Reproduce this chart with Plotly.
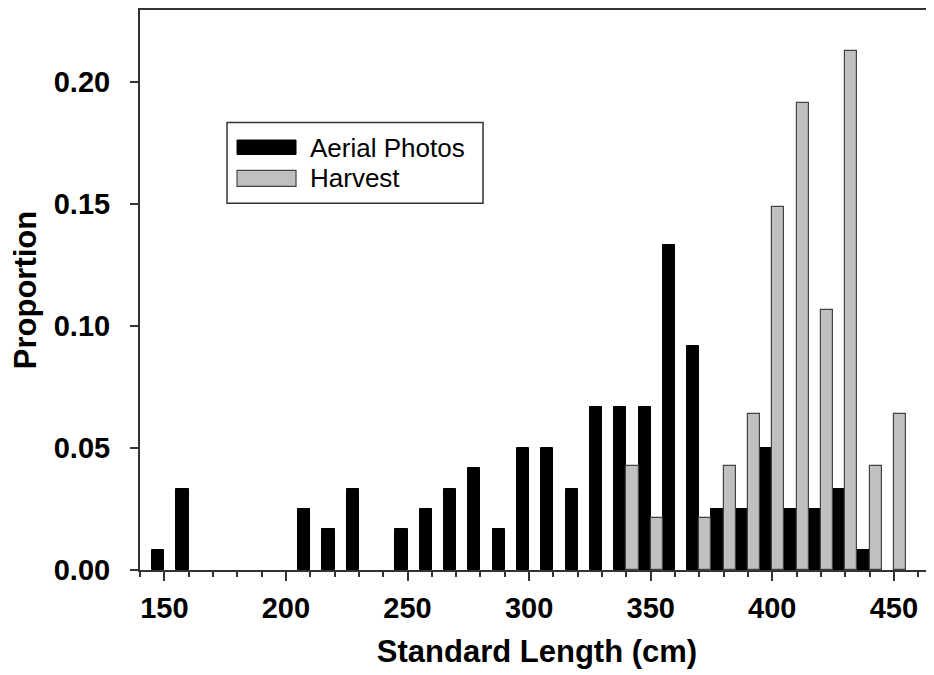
import plotly.graph_objects as go

# Data (bin centers in cm, proportions)
bins = [150, 160, 170, 180, 190, 200, 210, 220, 230, 240, 250, 260, 270, 280, 290,
        300, 310, 320, 330, 340, 350, 360, 370, 380, 390, 400, 410, 420, 430, 440, 450]
aerial = [0.0083, 0.0333, None, None, None, None, 0.025, 0.0167, 0.0333, None, 0.0167,
          0.025, 0.0333, 0.0417, 0.0167, 0.05, 0.05, 0.0333, 0.0667, 0.0667, 0.0667,
          0.1333, 0.0917, 0.025, 0.025, 0.05, 0.025, 0.025, 0.0333, 0.0083, None]
harvest = [None, None, None, None, None, None, None, None, None, None, None,
           None, None, None, None, None, None, None, None, 0.0426, 0.0213,
           None, 0.0213, 0.0426, 0.0638, 0.1489, 0.1915, 0.1064, 0.2128, 0.0426, 0.0638]
x_ticks = [150, 200, 250, 300, 350, 400, 450]
y_ticks = [0.0, 0.05, 0.10, 0.15, 0.20]
y_tick_labels = ["0.00", "0.05", "0.10", "0.15", "0.20"]

FONT = "Liberation Sans, Arial, sans-serif"

fig = go.Figure()
fig.add_trace(go.Bar(x=bins, y=aerial, name="Aerial Photos",
                     marker=dict(color="#000000", line=dict(color="#000000", width=1)),
                     showlegend=False))
fig.add_trace(go.Bar(x=bins, y=harvest, name="Harvest",
                     marker=dict(color="#c0c0c0", line=dict(color="#444444", width=1.2)),
                     showlegend=False))

# Custom legend (wide swatches as in the reference)
fig.add_shape(type="rect", xref="paper", yref="paper", x0=0.1096, x1=0.432, y0=0.6548, y1=0.799,
              line=dict(color="#333333", width=1.5), fillcolor="white", layer="above")
fig.add_shape(type="rect", xref="paper", yref="paper", x0=0.1222, x1=0.1965, y0=0.742, y1=0.7678,
              line=dict(color="#000000", width=1), fillcolor="#000000", layer="above")
fig.add_shape(type="rect", xref="paper", yref="paper", x0=0.1222, x1=0.1965, y0=0.685, y1=0.7135,
              line=dict(color="#444444", width=1.2), fillcolor="#c0c0c0", layer="above")
fig.add_annotation(text="Aerial Photos", xref="paper", yref="paper", x=0.2115, y=0.7536,
                   xanchor="left", yanchor="middle", showarrow=False,
                   font=dict(family=FONT, size=26, color="#000000"))
fig.add_annotation(text="Harvest", xref="paper", yref="paper", x=0.2115, y=0.6993,
                   xanchor="left", yanchor="middle", showarrow=False,
                   font=dict(family=FONT, size=26, color="#000000"))

fig.update_layout(
    width=926, height=667,
    margin=dict(l=132, r=0, t=0, b=105),
    paper_bgcolor="white", plot_bgcolor="white",
    barmode="group", bargap=0, bargroupgap=0,
    font=dict(family=FONT, color="#000000"),
)
fig.update_xaxes(
    range=[140, 466.5], tickvals=x_ticks, ticks="outside", ticklen=9, tickwidth=2,
    tickcolor="#333333", showline=True, linecolor="#333333", linewidth=2, mirror=True,
    showgrid=False, zeroline=False, ticklabelstandoff=2,
    tickfont=dict(family=FONT, size=29, weight="bold"),
    minor=dict(dtick=10, tick0=140, ticks="outside", ticklen=5, tickwidth=1.5, tickcolor="#333333"),
    title=dict(text="Standard Length (cm)", standoff=18,
               font=dict(family=FONT, size=31, weight="bold")),
)
fig.update_yaxes(
    range=[0, 0.2294], tickvals=y_ticks, ticktext=y_tick_labels, ticks="outside", ticklen=8,
    tickwidth=2, tickcolor="#333333", showline=True, linecolor="#333333", linewidth=2,
    showgrid=False, zeroline=False, ticklabelstandoff=14,
    tickfont=dict(family=FONT, size=29, weight="bold"),
    title=dict(text="Proportion", standoff=9,
               font=dict(family=FONT, size=31, weight="bold")),
)

fig.write_html("out.html")
